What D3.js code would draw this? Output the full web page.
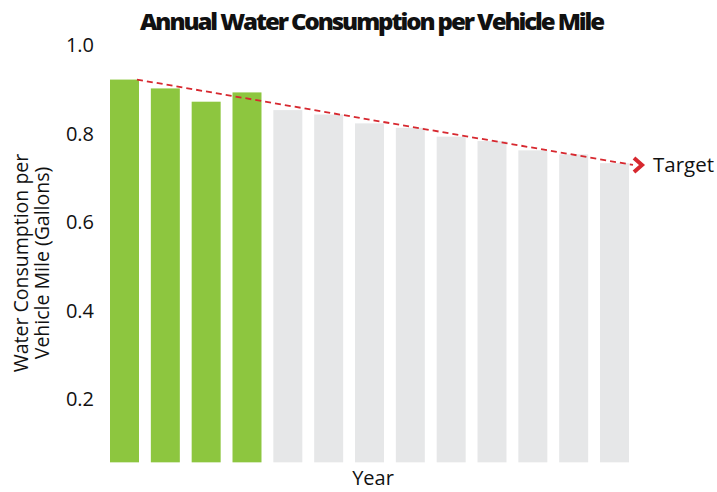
<!DOCTYPE html>
<html>
<head>
<meta charset="utf-8">
<script src="https://cdn.jsdelivr.net/npm/d3@7"></script>
<style>
  body { margin: 0; background: #fff; }
  text { font-family: "Open Sans", sans-serif; fill: #111; }
</style>
</head>
<body>
<div id="chart"></div>
<script>
// chart data
let years = ["Y1", "Y2", "Y3", "Y4", "Y5", "Y6", "Y7", "Y8", "Y9", "Y10", "Y11", "Y12", "Y13"];
let values = [0.923, 0.903, 0.873, 0.894, 0.854, 0.844, 0.824, 0.814, 0.794, 0.784, 0.763, 0.754, 0.734];
let actualCount = 4; // first bars are actuals (green), rest are projections
let yTicks = [0.2, 0.4, 0.6, 0.8, 1.0];
let targetLine = [0.923, 0.73]; // from first year to target

let width = 717, height = 492;

let svg = d3.select("#chart")
    .append("svg")
    .attr("width", width)
    .attr("height", height);

// scales
let x = d3.scaleBand()
    .domain(years)
    .range([110, 629])
    .paddingInner(0.29)
    .paddingOuter(0);

let y = d3.scaleLinear()
    .domain([0, 1.0])
    .range([488, 45.5]);

let yBase = 0.058;

// title
svg.append("text")
    .attr("x", 140)
    .attr("y", 30)
    .attr("textLength", 463)
    .attr("lengthAdjust", "spacingAndGlyphs")
    .style("font-size", "23px")
    .style("font-weight", "800")
    .style("letter-spacing", "-2px")
    .text("Annual Water Consumption per Vehicle Mile");

// y axis (labels only)
let yAxis = svg.append("g")
    .attr("transform", "translate(94,0)")
    .call(d3.axisLeft(y).tickValues(yTicks).tickFormat(d3.format(".1f")).tickSize(0).tickPadding(0));
yAxis.select(".domain").remove();
yAxis.selectAll("text")
    .style("font-family", "'Open Sans', sans-serif")
    .style("font-size", "20px")
    .attr("fill", "#111");

// y axis title
let yTitle = svg.append("text")
    .attr("transform", "translate(28,263) rotate(-90)")
    .attr("text-anchor", "middle")
    .style("font-size", "19.5px");
yTitle.append("tspan").attr("x", 0).attr("dy", 0).text("Water Consumption per");
yTitle.append("tspan").attr("x", 0).attr("dy", 21).text("Vehicle Mile (Gallons)");

// bars
svg.selectAll(".bar")
    .data(values)
    .enter()
    .append("rect")
    .attr("class", "bar")
    .attr("x", function (d, i) { return x(years[i]); })
    .attr("y", function (d) { return y(d); })
    .attr("width", x.bandwidth())
    .attr("height", function (d) { return y(yBase) - y(d); })
    .attr("fill", function (d, i) { return i < actualCount ? "#8dc63f" : "#e6e7e8"; });

// target dashed line
let x0 = x(years[0]) + x.bandwidth() - 2;
let x1 = x(years[years.length - 1]) + x.bandwidth() + 4;
svg.append("line")
    .attr("x1", x0)
    .attr("y1", y(targetLine[0]))
    .attr("x2", x1)
    .attr("y2", y(targetLine[1]))
    .attr("stroke", "#d7282f")
    .attr("stroke-width", 1.8)
    .attr("stroke-dasharray", "6,4");

// arrow head
let ty = y(targetLine[1]);
svg.append("path")
    .attr("d", "M" + (x1 + 1) + "," + (ty - 7) + "L" + (x1 + 9) + "," + ty + "L" + (x1 + 1) + "," + (ty + 7))
    .attr("fill", "none")
    .attr("stroke", "#d7282f")
    .attr("stroke-width", 4);

svg.append("text")
    .attr("x", 653)
    .attr("y", ty + 7.5)
    .style("font-size", "20.5px")
    .text("Target");

// x axis title
svg.append("text")
    .attr("x", 373)
    .attr("y", 485)
    .attr("text-anchor", "middle")
    .style("font-size", "20px")
    .text("Year");
</script>
</body>
</html>
